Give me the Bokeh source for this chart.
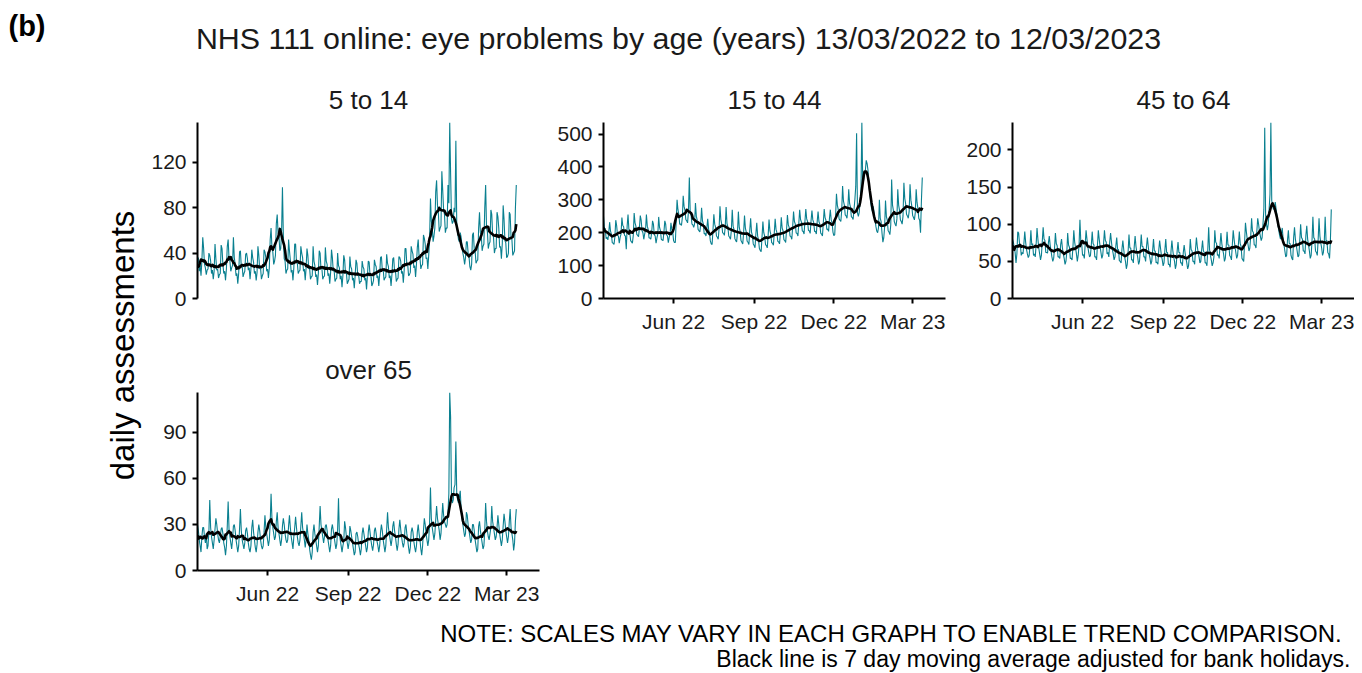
import math
import pandas as pd
from bokeh.plotting import figure
from bokeh.layouts import column, row
from bokeh.models import Range1d, FixedTicker, DatetimeTickFormatter
from bokeh.embed import file_html
from bokeh.resources import INLINE
from bokeh.core.properties import value

# ---------------- data (daily assessments, one row = one week starting Sunday) ----------------
START = "2022-03-13"
panel_titles = ["5 to 14", "15 to 44", "45 to 64", "over 65"]

# England bank holidays in the period (excluded from the 7 day moving average)
bank_holidays = ["2022-04-15", "2022-04-18", "2022-05-02", "2022-06-02", "2022-06-03",
                 "2022-08-29", "2022-09-19", "2022-12-26", "2022-12-27", "2023-01-02"]

age_5_14 = [
    31, 36, 24, 29, 20, 33, 54,
    44, 30, 27, 21, 25, 26, 40,
    38, 33, 22, 25, 17, 24, 48,
    35, 25, 26, 18, 21, 22, 47,
    44, 30, 22, 24, 16, 26, 46,
    52, 35, 33, 24, 27, 29, 54,
    36, 30, 20, 22, 13, 22, 41,
    42, 28, 29, 19, 22, 24, 39,
    40, 35, 25, 27, 17, 26, 43,
    36, 32, 22, 24, 16, 23, 46,
    38, 26, 27, 17, 20, 22, 43,
    41, 36, 24, 26, 18, 27, 52,
    62, 45, 41, 30, 33, 38, 66,
    74, 58, 55, 42, 44, 58, 98,
    56, 35, 33, 22, 25, 26, 52,
    42, 34, 23, 25, 16, 27, 48,
    48, 32, 31, 22, 24, 25, 46,
    40, 36, 24, 26, 16, 27, 44,
    38, 26, 27, 17, 19, 20, 46,
    33, 29, 19, 21, 12, 22, 42,
    40, 26, 27, 17, 19, 20, 45,
    33, 30, 20, 22, 13, 23, 43,
    36, 24, 25, 15, 17, 18, 40,
    29, 27, 17, 20, 10, 20, 38,
    34, 22, 23, 13, 15, 17, 37,
    28, 26, 16, 18, 9, 20, 34,
    31, 20, 21, 13, 15, 15, 33,
    28, 26, 16, 18, 8, 20, 33,
    32, 20, 21, 11, 13, 16, 34,
    30, 28, 18, 20, 11, 21, 36,
    37, 25, 26, 16, 18, 19, 39,
    31, 28, 18, 20, 11, 21, 35,
    36, 24, 25, 15, 17, 18, 37,
    36, 33, 22, 24, 14, 25, 44,
    44, 30, 30, 20, 21, 23, 46,
    42, 39, 27, 29, 19, 30, 45,
    52, 37, 36, 26, 29, 30, 56,
    53, 48, 35, 36, 26, 38, 52,
    88, 68, 63, 50, 55, 62, 94,
    104, 82, 76, 59, 62, 64, 112,
    95, 78, 74, 58, 62, 62, 100,
    84, 155, 110, 70, 66, 68, 80,
    76, 139, 66, 58, 52, 50, 58,
    54, 46, 40, 36, 30, 36, 50,
    50, 40, 37, 28, 25, 30, 56,
    58, 43, 42, 31, 33, 34, 62,
    76, 58, 56, 42, 46, 48, 80,
    100, 62, 59, 44, 48, 50, 78,
    74, 56, 54, 40, 44, 44, 76,
    72, 62, 45, 46, 35, 48, 82,
    70, 51, 49, 36, 37, 40, 76,
    74, 54, 52, 38, 40, 42, 80,
    100,
]

age_15_44 = [
    250, 215, 212, 182, 186, 178, 200,
    232, 205, 196, 170, 168, 164, 188,
    238, 222, 192, 190, 168, 186, 196,
    246, 222, 218, 192, 190, 150, 220,
    255, 210, 200, 176, 172, 168, 192,
    260, 230, 220, 195, 192, 188, 214,
    252, 238, 206, 200, 180, 196, 208,
    255, 220, 210, 184, 184, 180, 200,
    236, 226, 194, 190, 168, 184, 196,
    248, 216, 206, 180, 178, 176, 202,
    236, 226, 194, 190, 170, 186, 196,
    230, 210, 204, 176, 170, 170, 235,
    300, 270, 256, 226, 226, 222, 245,
    312, 280, 268, 240, 236, 230, 265,
    368, 264, 254, 226, 224, 216, 227,
    290, 250, 238, 210, 206, 202, 226,
    276, 236, 226, 196, 198, 190, 215,
    242, 210, 200, 175, 166, 164, 208,
    256, 226, 216, 190, 186, 180, 214,
    280, 240, 226, 200, 198, 192, 218,
    278, 228, 218, 190, 186, 180, 208,
    270, 220, 210, 182, 176, 172, 202,
    264, 216, 204, 176, 171, 166, 201,
    252, 214, 202, 174, 171, 164, 207,
    244, 202, 192, 166, 161, 154, 197,
    230, 190, 178, 152, 146, 142, 187,
    234, 200, 190, 164, 161, 154, 192,
    240, 206, 196, 170, 168, 162, 200,
    242, 210, 200, 174, 172, 166, 201,
    247, 214, 206, 179, 176, 170, 208,
    254, 224, 216, 190, 188, 180, 218,
    264, 234, 226, 199, 198, 190, 229,
    270, 240, 232, 205, 204, 196, 235,
    272, 242, 234, 207, 206, 198, 237,
    267, 239, 231, 204, 204, 196, 234,
    264, 234, 226, 199, 196, 190, 231,
    272, 246, 238, 210, 211, 204, 243,
    270, 239, 230, 202, 191, 194, 249,
    318, 284, 271, 242, 238, 234, 268,
    342, 296, 284, 254, 251, 244, 275,
    332, 289, 278, 249, 246, 240, 270,
    300, 340, 502, 260, 250, 262, 300,
    330, 535, 350, 360, 380, 390, 420,
    410, 390, 350, 320, 295, 275, 265,
    280, 260, 240, 220, 205, 200, 215,
    300, 244, 234, 199, 171, 184, 218,
    298, 249, 238, 206, 202, 194, 224,
    362, 284, 268, 234, 226, 220, 242,
    332, 284, 268, 239, 234, 226, 251,
    352, 304, 288, 256, 251, 244, 265,
    347, 299, 281, 252, 246, 239, 261,
    332, 292, 274, 244, 238, 200, 298,
    368,
]

age_45_64 = [
    80, 76, 68, 62, 48, 60, 90,
    88, 74, 72, 58, 62, 60, 74,
    90, 76, 66, 60, 55, 58, 71,
    92, 72, 74, 58, 60, 56, 73,
    95, 80, 68, 60, 52, 58, 77,
    96, 80, 78, 62, 62, 61, 75,
    84, 72, 64, 56, 50, 54, 68,
    88, 74, 71, 56, 56, 54, 73,
    80, 68, 60, 54, 46, 50, 62,
    88, 72, 69, 54, 54, 52, 69,
    92, 76, 68, 60, 50, 58, 72,
    106, 76, 74, 58, 59, 54, 73,
    92, 80, 70, 62, 56, 58, 72,
    90, 74, 72, 56, 56, 52, 72,
    92, 80, 70, 62, 54, 58, 74,
    92, 78, 76, 60, 62, 56, 76,
    88, 76, 66, 60, 52, 56, 71,
    82, 66, 66, 51, 50, 48, 67,
    78, 66, 56, 50, 40, 46, 63,
    86, 68, 68, 52, 52, 48, 70,
    84, 70, 62, 55, 46, 50, 67,
    86, 70, 70, 56, 56, 50, 70,
    82, 70, 60, 54, 46, 50, 65,
    80, 64, 64, 48, 49, 46, 65,
    78, 68, 58, 52, 44, 48, 66,
    80, 62, 62, 46, 46, 42, 64,
    78, 65, 56, 50, 40, 46, 64,
    76, 62, 62, 48, 48, 44, 62,
    72, 62, 54, 48, 40, 44, 58,
    80, 66, 64, 50, 50, 46, 67,
    82, 70, 62, 56, 48, 50, 66,
    78, 64, 62, 48, 48, 44, 66,
    96, 66, 58, 52, 44, 48, 56,
    92, 76, 74, 58, 59, 54, 73,
    88, 74, 66, 60, 50, 54, 70,
    90, 72, 72, 58, 56, 52, 72,
    92, 80, 70, 62, 54, 58, 74,
    90, 74, 70, 54, 52, 50, 75,
    102, 90, 80, 72, 64, 68, 84,
    108, 91, 89, 72, 72, 68, 91,
    108, 100, 90, 84, 78, 82, 100,
    120, 230, 112, 100, 92, 100, 120,
    140, 237, 132, 125, 120, 122, 130,
    120, 112, 100, 92, 85, 80, 88,
    95, 80, 72, 64, 56, 58, 79,
    92, 74, 74, 58, 54, 52, 82,
    96, 80, 72, 64, 56, 58, 78,
    100, 82, 80, 64, 64, 60, 85,
    98, 80, 72, 64, 54, 58, 78,
    110, 82, 80, 64, 62, 58, 79,
    108, 84, 75, 68, 58, 62, 77,
    110, 78, 78, 62, 60, 54, 79,
    120,
]

age_over_65 = [
    30, 26, 20, 16, 12, 22, 28,
    28, 22, 18, 24, 14, 16, 25,
    46, 28, 22, 18, 14, 20, 27,
    34, 30, 24, 20, 18, 22, 27,
    28, 24, 18, 15, 10, 16, 29,
    45, 27, 22, 18, 14, 20, 29,
    30, 26, 20, 16, 12, 16, 27,
    40, 26, 20, 17, 14, 18, 26,
    28, 24, 18, 14, 12, 16, 28,
    33, 25, 20, 15, 12, 17, 25,
    30, 26, 20, 16, 14, 16, 25,
    36, 28, 24, 20, 16, 20, 31,
    50, 34, 28, 24, 20, 22, 32,
    38, 28, 24, 20, 16, 20, 29,
    34, 30, 24, 20, 18, 20, 29,
    36, 28, 22, 18, 14, 22, 28,
    35, 28, 22, 18, 16, 20, 29,
    38, 28, 24, 20, 15, 20, 30,
    24, 20, 14, 10, 7, 12, 25,
    30, 24, 20, 16, 12, 16, 29,
    42, 30, 26, 22, 18, 22, 29,
    30, 26, 20, 16, 12, 16, 27,
    30, 26, 22, 18, 14, 17, 27,
    47, 24, 20, 16, 12, 16, 19,
    32, 28, 22, 18, 14, 18, 29,
    26, 22, 18, 14, 10, 12, 24,
    25, 22, 17, 14, 10, 14, 24,
    28, 24, 20, 16, 12, 15, 25,
    30, 25, 20, 16, 13, 17, 26,
    28, 24, 19, 16, 12, 16, 25,
    30, 26, 20, 16, 12, 16, 27,
    38, 28, 24, 20, 16, 20, 29,
    32, 26, 22, 17, 13, 17, 27,
    33, 27, 22, 18, 15, 18, 28,
    30, 24, 20, 15, 11, 15, 25,
    28, 25, 19, 15, 12, 16, 25,
    30, 24, 20, 14, 10, 16, 26,
    34, 30, 24, 20, 16, 20, 31,
    54, 34, 28, 24, 20, 24, 33,
    42, 34, 30, 26, 20, 24, 34,
    44, 36, 32, 30, 28, 30, 38,
    50, 116, 100, 48, 44, 46, 54,
    56, 84, 50, 46, 44, 48, 52,
    40, 34, 30, 26, 22, 24, 38,
    36, 30, 26, 22, 18, 20, 30,
    30, 26, 20, 16, 12, 14, 29,
    32, 26, 22, 18, 14, 16, 26,
    44, 32, 26, 22, 20, 24, 28,
    42, 32, 28, 24, 20, 22, 28,
    36, 30, 24, 20, 16, 20, 29,
    37, 32, 26, 22, 18, 22, 32,
    40, 28, 24, 20, 13, 18, 32,
    40,
]

y_ticks = [
    [0, 40, 80, 120],
    [0, 100, 200, 300, 400, 500],
    [0, 50, 100, 150, 200],
    [0, 30, 60, 90],
]
x_tick_dates = ["2022-06-01", "2022-09-01", "2022-12-01", "2023-03-01"]
X_END = "2023-04-07 12:00"

# ---------------- styling ----------------
FONT = "Liberation Sans"
TEAL = "#0A8090"
TXT = "#1a1a1a"
FRAME_W = 342
FRAME_H = 178


def blank(width, height):
    p = figure(width=width, height=height, x_range=Range1d(0, width), y_range=Range1d(0, height),
               x_axis_location=None, y_axis_location=None, toolbar_location=None,
               output_backend="svg", min_border=0, outline_line_color=None)
    p.xgrid.grid_line_color = None
    p.ygrid.grid_line_color = None
    p.grid.visible = False
    return p


def panel(title, vals, yticks, show_x, b_left, b_right, b_top, b_bottom):
    dates = pd.date_range(START, periods=len(vals), freq="D")
    s = pd.Series(vals, index=dates, dtype=float)
    adj = s.copy()
    adj[adj.index.isin(pd.to_datetime(bank_holidays))] = float("nan")
    ma = adj.rolling(7, center=True, min_periods=4).mean()
    p = figure(width=b_left + FRAME_W + b_right, height=b_top + FRAME_H + b_bottom,
               x_axis_type="datetime",
               x_axis_location="below" if show_x else None,
               x_range=Range1d(pd.Timestamp(START), pd.Timestamp(X_END)),
               y_range=Range1d(0, max(vals)),
               toolbar_location=None, output_backend="svg",
               min_border_left=b_left, min_border_right=b_right,
               min_border_top=b_top, min_border_bottom=b_bottom,
               outline_line_color=None)
    p.title.text = title
    p.title.align = "center"
    p.title.text_font = FONT
    p.title.text_font_size = "26px"
    p.title.text_font_style = "normal"
    p.title.text_color = TXT
    p.title.standoff = 15
    p.xgrid.visible = False
    p.ygrid.visible = False

    p.line(dates, s.values, line_color=TEAL, line_width=1.1)
    p.line(dates, ma.values, line_color="black", line_width=2.6, line_join="round")

    axes = list(p.yaxis) + (list(p.xaxis) if show_x else [])
    for ax in axes:
        ax.axis_line_width = 2
        ax.axis_line_color = "black"
        ax.major_tick_line_width = 2
        ax.major_tick_line_color = "black"
        ax.major_tick_out = 5
        ax.major_tick_in = 0
        ax.minor_tick_line_color = None
        ax.major_label_text_font = FONT
        ax.major_label_text_font_size = "21px"
        ax.major_label_text_color = TXT
        ax.major_label_standoff = 6
    p.yaxis.ticker = FixedTicker(ticks=yticks)
    if show_x:
        p.xaxis.ticker = FixedTicker(
            ticks=[pd.Timestamp(d).value / 1e6 for d in x_tick_dates])
        p.xaxis.formatter = DatetimeTickFormatter(
            days="%b %y", months="%b %y", years="%b %y", boundary_scaling=False)
    return p


f1 = panel(panel_titles[0], age_5_14, y_ticks[0], False, 50, 12, 45, 42)
f2 = panel(panel_titles[1], age_15_44, y_ticks[1], True, 52, 12, 45, 42)
f3 = panel(panel_titles[2], age_45_64, y_ticks[2], True, 55, 0, 45, 42)
f4 = panel(panel_titles[3], age_over_65, y_ticks[3], True, 50, 12, 52, 40)

# header
header = blank(1346, 67)
header.text(x=[0], y=[50], text=["(b)"], text_font=value(FONT), text_font_size="29px",
            text_font_style="bold", text_align="left", text_baseline="middle", text_color="black")
header.text(x=[670], y=[38], text=["NHS 111 online: eye problems by age (years) 13/03/2022 to 12/03/2023"],
            text_font=value(FONT), text_font_size="30.4px", text_align="center",
            text_baseline="middle", text_color=TXT)

# y label
ylab = blank(139, 535)
ylab.text(x=[114], y=[265], text=["daily assessments"], angle=math.pi / 2,
          text_font=value(FONT), text_font_size="33px", text_align="center",
          text_baseline="middle", text_color="black")

# footer
footer = blank(1346, 62)
footer.text(x=[1335], y=[39], text=["NOTE: SCALES MAY VARY IN EACH GRAPH TO ENABLE TREND COMPARISON."],
            text_font=value(FONT), text_font_size="24px", text_align="right",
            text_baseline="middle", text_color="black")
footer.text(x=[1342], y=[14], text=["Black line is 7 day moving average adjusted for bank holidays."],
            text_font=value(FONT), text_font_size="23px", text_align="right",
            text_baseline="middle", text_color="black")

layout = column(header, row(ylab, column(row(f1, f2, f3), f4)), footer, margin=(8, 0, 0, 8))

open("out.html", "w").write(file_html(layout, INLINE))
